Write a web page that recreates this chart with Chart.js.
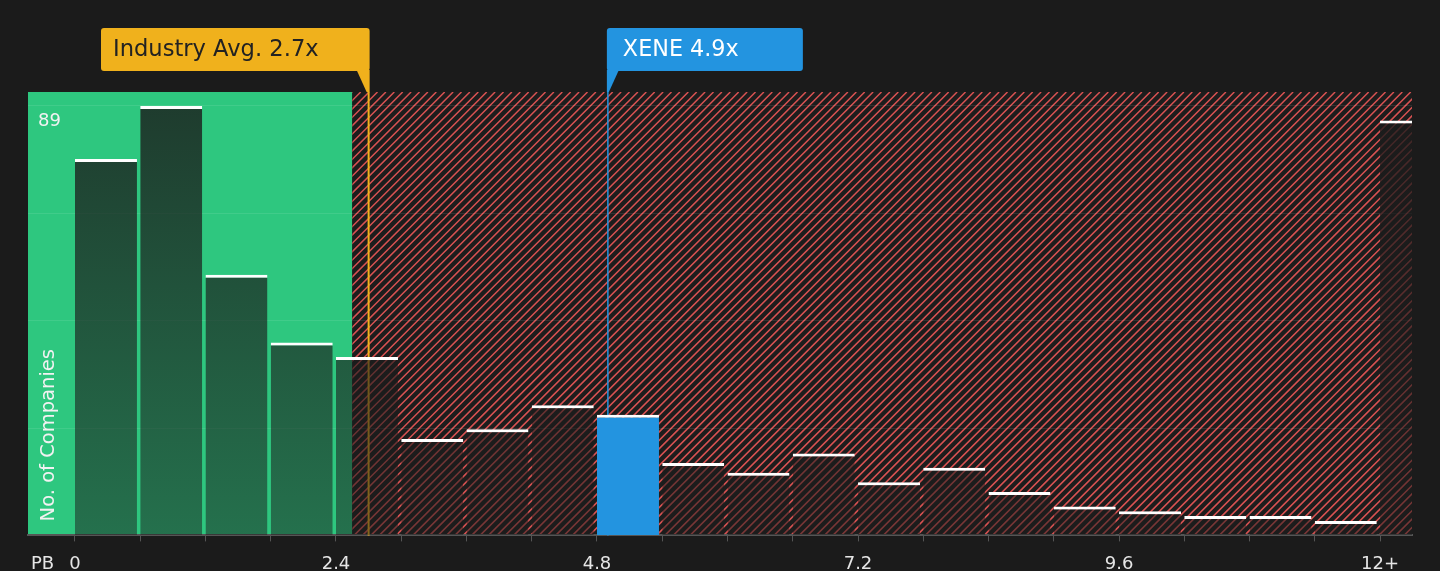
<!DOCTYPE html>
<html>
<head>
<meta charset="utf-8">
<script src="https://cdn.jsdelivr.net/npm/chart.js@4.4.1/dist/chart.umd.min.js"></script>
<style>
	html, body { margin: 0; padding: 0; background: #1b1b1b; }
	canvas { display: block; }
</style>
</head>
<body>
<canvas id="pb-chart" width="1440" height="571"></canvas>
<script>
	// bins of 0.6x, the last one is 12+
	var binStarts = [0, 0.6, 1.2, 1.8, 2.4, 3.0, 3.6, 4.2, 4.8, 5.4, 6.0, 6.6, 7.2, 7.8, 8.4, 9.0, 9.6, 10.2, 10.8, 11.4, 12.0];
	var companyCounts = [78, 89, 54, 40, 37, 20, 22, 27, 25, 15, 13, 17, 11, 14, 9, 6, 5, 4, 4, 3, 86];
	var tickLabels = ['0', '2.4', '4.8', '7.2', '9.6', '12+'];
	var yGrid = [0, 22.25, 44.5, 66.75, 89];
	var yMaxLabel = '89';
	var industryAvg = 2.7;
	var companyValue = 4.9;
	var companyName = 'XENE';
	var fairLimit = 2.55;
	var highlightIndex = 8;

	var font = 'DejaVu Sans';
	var binWidth = 0.6;
	var barShare = 0.95;

	function roundRect(ctx, x, y, w, h, r) {
		ctx.beginPath();
		ctx.moveTo(x + r, y);
		ctx.lineTo(x + w - r, y);
		ctx.quadraticCurveTo(x + w, y, x + w, y + r);
		ctx.lineTo(x + w, y + h - r);
		ctx.quadraticCurveTo(x + w, y + h, x + w - r, y + h);
		ctx.lineTo(x + r, y + h);
		ctx.quadraticCurveTo(x, y + h, x, y + h - r);
		ctx.lineTo(x, y + r);
		ctx.quadraticCurveTo(x, y, x + r, y);
		ctx.closePath();
	}

	var backdrop = {
		id: 'backdrop',
		beforeDraw: function (chart) {
			var ctx = chart.ctx, a = chart.chartArea, x = chart.scales.x;
			var split = x.getPixelForValue(fairLimit);
			var h = a.bottom - a.top;
			ctx.save();
			ctx.fillStyle = '#2ec77f';
			ctx.fillRect(a.left, a.top, split - a.left, h);
			ctx.fillStyle = '#1d1d1d';
			ctx.fillRect(split, a.top, a.right - split, h);
			// red hatch
			ctx.beginPath();
			ctx.rect(split, a.top, a.right - split, h);
			ctx.clip();
			ctx.strokeStyle = '#d85252';
			ctx.lineWidth = 1.5;
			ctx.beginPath();
			for (var sx = split - h; sx < a.right + 10; sx += 8.4) {
				ctx.moveTo(sx, a.bottom);
				ctx.lineTo(sx + h, a.top);
			}
			ctx.stroke();
			ctx.restore();
		},
		beforeDatasetsDraw: function (chart) {
			var ctx = chart.ctx, a = chart.chartArea, x = chart.scales.x;
			ctx.save();
			ctx.strokeStyle = '#f0b11c';
			ctx.lineWidth = 2;
			var ix = x.getPixelForValue(industryAvg);
			ctx.beginPath(); ctx.moveTo(ix, a.top); ctx.lineTo(ix, a.bottom); ctx.stroke();
			ctx.strokeStyle = '#2394e0';
			ctx.lineWidth = 1.5;
			var cx = x.getPixelForValue(companyValue);
			ctx.beginPath(); ctx.moveTo(cx, a.top); ctx.lineTo(cx, a.bottom); ctx.stroke();
			ctx.restore();
		},
		afterDraw: function (chart) {
			var ctx = chart.ctx, a = chart.chartArea, x = chart.scales.x;
			var top = 28, h = 43;
			ctx.save();
			// industry label, box ends at the line
			var ix = x.getPixelForValue(industryAvg);
			ctx.fillStyle = '#f0b11c';
			roundRect(ctx, 101, top, ix + 1 - 101, h, 3);
			ctx.fill();
			ctx.beginPath();
			ctx.moveTo(ix - 12, top + h - 1);
			ctx.lineTo(ix + 1, top + h - 1);
			ctx.lineTo(ix + 1, a.top);
			ctx.lineTo(ix - 2, a.top);
			ctx.closePath();
			ctx.fill();
			ctx.fillStyle = '#222222';
			ctx.font = '22.6px ' + font;
			ctx.textBaseline = 'middle';
			ctx.fillText('Industry Avg. ' + industryAvg + 'x', 113, top + h / 2 + 1);

			// company label, box starts at the line
			var cx = x.getPixelForValue(companyValue);
			ctx.fillStyle = '#2394e0';
			roundRect(ctx, cx - 1, top, 196, h, 3);
			ctx.fill();
			ctx.beginPath();
			ctx.moveTo(cx - 1, top + h - 1);
			ctx.lineTo(cx + 11, top + h - 1);
			ctx.lineTo(cx + 1, a.top);
			ctx.lineTo(cx - 1, a.top);
			ctx.closePath();
			ctx.fill();
			ctx.fillStyle = '#ffffff';
			ctx.font = '22.3px ' + font;
			ctx.fillText(companyName + ' ' + companyValue + 'x', cx + 15, top + h / 2 + 1);

			// y labels inside the plot
			ctx.fillStyle = '#f2f2f2';
			ctx.font = '18px ' + font;
			ctx.fillText(yMaxLabel, a.left + 10, 121);
			ctx.save();
			ctx.translate(a.left + 21, a.bottom - 14);
			ctx.rotate(-Math.PI / 2);
			ctx.font = '19.5px ' + font;
			ctx.textAlign = 'left';
			ctx.fillText('No. of Companies', 0, 0);
			ctx.restore();

			ctx.fillStyle = '#e6e6e6';
			ctx.font = '18px ' + font;
			ctx.fillText('PB', 31, 564);
			ctx.restore();
		}
	};

	var chart = new Chart(document.getElementById('pb-chart'), {
		type: 'bar',
		data: {
			datasets: [{
				// bar starts at the bin start, gap is left on the right side
				data: binStarts.map(function (s, i) { return { x: s + binWidth * barShare / 2, y: companyCounts[i] }; }),
				backgroundColor: function (c) {
					if (c.dataIndex === highlightIndex) return '#2394e0';
					var a = c.chart.chartArea;
					if (!a) return 'rgba(27,27,27,0.7)';
					var g = c.chart.ctx.createLinearGradient(0, a.top, 0, a.bottom);
					g.addColorStop(0, 'rgba(27,27,27,0.82)');
					g.addColorStop(1, 'rgba(27,27,27,0.5)');
					return g;
				},
				borderColor: '#ffffff',
				borderWidth: { top: 3, left: 0, right: 0, bottom: 0 },
				borderSkipped: 'start',
				barPercentage: barShare,
				categoryPercentage: 1
			}]
		},
		options: {
			responsive: false,
			animation: false,
			layout: { padding: { left: 28, right: 28, top: 92, bottom: -16 } },
			plugins: { legend: { display: false }, tooltip: { enabled: false } },
			scales: {
				x: {
					type: 'linear',
					offset: false,
					min: -0.432,
					max: 12.294,
					afterBuildTicks: function (scale) {
						scale.ticks = binStarts.map(function (v) { return { value: v }; });
					},
					ticks: {
						autoSkip: false,
						maxRotation: 0,
						color: '#e6e6e6',
						font: { family: font, size: 18 },
						padding: 12,
						callback: function (v, i) { return i % 4 === 0 ? tickLabels[i / 4] : ''; }
					},
					grid: { drawOnChartArea: false, tickLength: 6, color: '#555555', offset: false },
					border: { color: '#555555', width: 2 }
				},
				y: {
					min: 0,
					max: 91.9,
					afterBuildTicks: function (scale) {
						scale.ticks = yGrid.map(function (v) { return { value: v }; });
					},
					ticks: { display: false },
					grid: { color: 'rgba(255,255,255,0.09)', drawTicks: false },
					border: { display: false }
				}
			}
		},
		plugins: [backdrop]
	});
</script>
</body>
</html>
